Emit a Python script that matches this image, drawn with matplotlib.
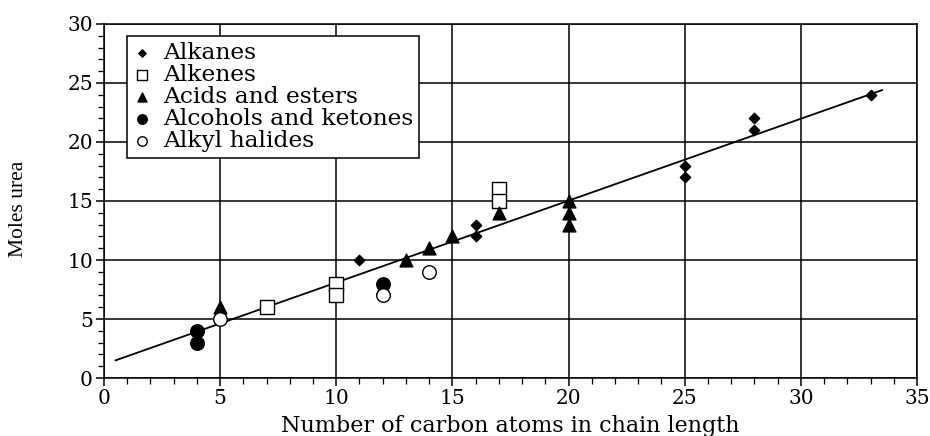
import matplotlib
matplotlib.use('Agg')
import matplotlib.pyplot as plt
from matplotlib.ticker import MultipleLocator

plt.rcParams['font.family'] = 'DejaVu Serif'

# data
alkanes_x = [11, 16, 16, 25, 25, 28, 28, 33]
alkanes_y = [10, 13, 12, 18, 17, 22, 21, 24]

alkenes_x = [7, 10, 10, 17, 17]
alkenes_y = [6, 8, 7, 16, 15]

acids_x = [5, 12, 13, 14, 15, 17, 20, 20, 20]
acids_y = [6, 7.7, 10, 11, 12, 14, 15, 14, 13]

alcohols_x = [4, 4, 12]
alcohols_y = [4, 3, 8]

halides_x = [5, 12, 14]
halides_y = [5, 7, 9]

fit_x = [0.5, 33.5]
fit_slope = 0.694
fit_icpt = 1.15

fig = plt.figure(figsize=(9.3, 4.36), dpi=100)
ax = fig.add_axes([0.1118, 0.133, 0.8742, 0.812])

ax.set_xlim(0, 35)
ax.set_ylim(0, 30)
ax.xaxis.set_major_locator(MultipleLocator(5))
ax.xaxis.set_minor_locator(MultipleLocator(1))
ax.yaxis.set_major_locator(MultipleLocator(5))
ax.yaxis.set_minor_locator(MultipleLocator(1))
ax.grid(True, which='major', color='black', linewidth=1.1)
ax.set_axisbelow(True)
# the 20 line is fainter in the scan
for tick in ax.yaxis.get_major_ticks():
    if abs(tick.get_loc() - 20) < 1e-6:
        tick.gridline.set_color('#666666')
        tick.gridline.set_linewidth(0.8)
ax.tick_params(which='major', direction='out', length=6, width=1.1,
               labelsize=14.5, colors='black', pad=2)
ax.tick_params(which='minor', direction='out', length=4, width=0.9)
for s in ax.spines.values():
    s.set_linewidth(1.1)

fit_y = [fit_icpt + fit_slope * x for x in fit_x]
ax.plot(fit_x, fit_y, color='black', linewidth=1.3, zorder=3)

ax.scatter(alkanes_x, alkanes_y, marker='D', s=28, color='black',
           zorder=4, label='Alkanes')
ax.scatter(alkenes_x, alkenes_y, marker='s', s=110, facecolor='white',
           edgecolor='black', linewidth=1.0, zorder=4, label='Alkenes')
ax.scatter(acids_x, acids_y, marker='^', s=85, color='black',
           zorder=4, label='Acids and esters')
ax.scatter(alcohols_x, alcohols_y, marker='o', s=95, color='black',
           zorder=5, label='Alcohols and ketones')
ax.scatter(halides_x, halides_y, marker='o', s=95, facecolor='white',
           edgecolor='black', linewidth=1.0, zorder=5, label='Alkyl halides')

leg = ax.legend(loc='upper left', bbox_to_anchor=(0.028, 0.965),
                fontsize=16.8, frameon=True, fancybox=False, edgecolor='black',
                borderpad=0.25, handlelength=0.8, handletextpad=0.5,
                labelspacing=0.0, borderaxespad=0, scatterpoints=1,
                markerscale=0.7)
leg.get_frame().set_linewidth(1.1)
leg.get_frame().set_alpha(1)

ax.set_xlabel('Number of carbon atoms in chain length', fontsize=16,
              labelpad=5)
ax.set_ylabel('Moles urea', fontsize=15.5, family='Liberation Serif')
ax.yaxis.set_label_coords(-0.094, 0.477)

fig.savefig('out.png', dpi=100)
